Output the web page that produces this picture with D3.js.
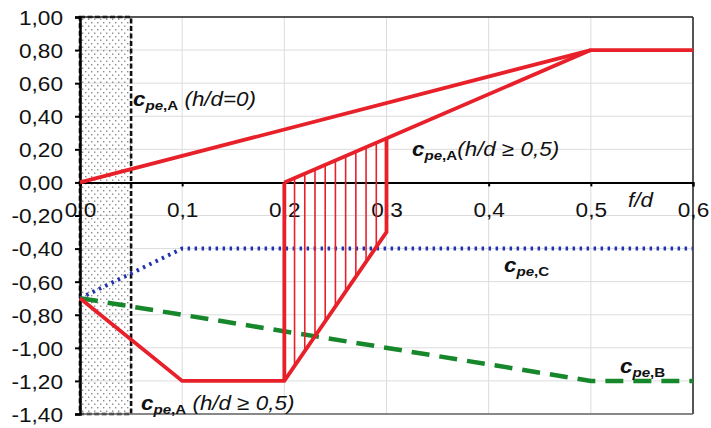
<!DOCTYPE html>
<html><head><meta charset="utf-8">
<script src="https://cdn.jsdelivr.net/npm/d3@7/dist/d3.min.js"></script>
<style>body{margin:0;background:#fff}svg{display:block}</style>
</head><body>
<script>
// ---- data ----
const xTicks = [0, 0.1, 0.2, 0.3, 0.4, 0.5, 0.6];
const xTickLabels = ["0,0", "0,1", "0,2", "0,3", "0,4", "0,5", "0,6"];
const yTicks = [1.0, 0.8, 0.6, 0.4, 0.2, 0.0, -0.2, -0.4, -0.6, -0.8, -1.0, -1.2, -1.4];
const yTickLabels = ["1,00", "0,80", "0,60", "0,40", "0,20", "0,00", "-0,20", "-0,40", "-0,60", "-0,80", "-1,00", "-1,20", "-1,40"];
const shadedX = [0, 0.05];

const cpeA0X = [0, 0.5, 0.6];
const cpeA0Y = [0, 0.8, 0.8];
const cpeAUpperX = [0.2, 0.5];
const cpeAUpperY = [0, 0.8];
const cpeALowerX = [0, 0.1, 0.2, 0.3, 0.3];
const cpeALowerY = [-0.7, -1.2, -1.2, -0.3, 0.267];
const cpeALeftEdgeX = [0.2, 0.2];
const cpeALeftEdgeY = [0, -1.2];
const hatchX = [0.21, 0.22, 0.23, 0.24, 0.25, 0.26, 0.27, 0.28, 0.29];
const hatchTop = [0.027, 0.053, 0.08, 0.107, 0.133, 0.16, 0.187, 0.213, 0.24];
const hatchBottom = [-1.11, -1.02, -0.93, -0.84, -0.75, -0.66, -0.57, -0.48, -0.39];
const cpeCX = [0, 0.1, 0.6];
const cpeCY = [-0.7, -0.4, -0.4];
const cpeBX = [0, 0.5, 0.6];
const cpeBY = [-0.7, -1.2, -1.2];

// ---- chart ----
const W = 711, H = 428;
const L = 80, R = 693, T = 17, B = 414;
const SX = 1.16; // horizontal stretch of the original's lettering
const x = d3.scaleLinear().domain([0, 0.6]).range([L, R]);
const y = d3.scaleLinear().domain([-1.4, 1.0]).range([B, T]);
const FONT = "'Liberation Sans', Arial, sans-serif";

const svg = d3.select("body").append("svg").attr("width", W).attr("height", H)
  .style("font-family", FONT);

const defs = svg.append("defs");
const pat = defs.append("pattern").attr("id", "dots").attr("patternUnits", "userSpaceOnUse")
  .attr("width", 6).attr("height", 7);
pat.append("rect").attr("x", 1).attr("y", 1).attr("width", 1.4).attr("height", 1.4).attr("fill", "#8a8a8a");
pat.append("rect").attr("x", 4).attr("y", 4.5).attr("width", 1.4).attr("height", 1.4).attr("fill", "#8a8a8a");

// gridlines
svg.append("g").selectAll("line").data(yTicks).join("line")
  .attr("x1", L).attr("x2", R).attr("y1", d => y(d)).attr("y2", d => y(d))
  .attr("stroke", "#dcdcdc").attr("stroke-width", 1);
svg.append("g").selectAll("line").data(xTicks).join("line")
  .attr("x1", d => x(d)).attr("x2", d => x(d)).attr("y1", T).attr("y2", B)
  .attr("stroke", "#dcdcdc").attr("stroke-width", 1);

// shaded zone
svg.append("rect").attr("x", x(shadedX[0])).attr("y", T)
  .attr("width", x(shadedX[1]) - x(shadedX[0])).attr("height", B - T)
  .attr("fill", "url(#dots)").attr("stroke", "#111").attr("stroke-width", 2.6)
  .attr("stroke-dasharray", "5,2.5");

// borders
svg.append("line").attr("x1", L).attr("x2", R).attr("y1", T).attr("y2", T).attr("stroke", "#222").attr("stroke-width", 1.5);
svg.append("line").attr("x1", R).attr("x2", R).attr("y1", T).attr("y2", B).attr("stroke", "#222").attr("stroke-width", 1.5);
svg.append("line").attr("x1", L).attr("x2", R).attr("y1", B).attr("y2", B).attr("stroke", "#666").attr("stroke-width", 1.5);

// x axis at y=0
const xAxis = d3.axisBottom(x).tickValues(xTicks).tickSize(4).tickFormat((d, i) => xTickLabels[i]);
const gx = svg.append("g").attr("transform", `translate(0,${y(0)})`).call(xAxis);
gx.select(".domain").attr("stroke", "#000").attr("stroke-width", 2);
gx.selectAll(".tick line").attr("stroke", "#000").attr("stroke-width", 2);
gx.selectAll(".tick text").attr("font-size", 19.5).attr("fill", "#111").attr("y", 21).attr("dy", "0.71em")
  .attr("font-family", FONT).attr("transform", `scale(${SX},1)`);

// y axis
const yAxis = d3.axisLeft(y).tickValues(yTicks).tickSize(5).tickFormat((d, i) => yTickLabels[i]);
const gy = svg.append("g").attr("transform", `translate(${L},0)`).call(yAxis);
gy.select(".domain").attr("stroke", "#000").attr("stroke-width", 2.5);
gy.selectAll(".tick line").attr("stroke", "#000").attr("stroke-width", 2);
gy.selectAll(".tick text").attr("font-size", 19.5).attr("fill", "#111").attr("x", -17 / SX)
  .attr("dy", "0.38em")
  .attr("font-family", FONT).attr("transform", `scale(${SX},1)`);

const line = d3.line().x(d => x(d[0])).y(d => y(d[1]));
const zip = (a, b) => a.map((v, i) => [v, b[i]]);

// blue dotted
svg.append("path").attr("d", line(zip(cpeCX, cpeCY))).attr("fill", "none")
  .attr("stroke", "#2233b0").attr("stroke-width", 4).attr("stroke-dasharray", "2.5,4.5");
// green dashed
svg.append("path").attr("d", line(zip(cpeBX, cpeBY))).attr("fill", "none")
  .attr("stroke", "#17872b").attr("stroke-width", 4.5).attr("stroke-dasharray", "18,10");

// red
const red = "#e8202a";
svg.append("g").selectAll("line").data(hatchX).join("line")
  .attr("x1", d => x(d)).attr("x2", d => x(d))
  .attr("y1", (d, i) => y(hatchTop[i])).attr("y2", (d, i) => y(hatchBottom[i]))
  .attr("stroke", red).attr("stroke-width", 1.6);
[[cpeA0X, cpeA0Y], [cpeAUpperX, cpeAUpperY], [cpeALowerX, cpeALowerY], [cpeALeftEdgeX, cpeALeftEdgeY]]
  .forEach(([xs, ys]) => {
    svg.append("path").attr("d", line(zip(xs, ys))).attr("fill", "none")
      .attr("stroke", red).attr("stroke-width", 3.8).attr("stroke-linejoin", "miter");
  });

// labels
function cpeLabel(px, py, sub, rest) {
  const t = svg.append("text").attr("transform", `translate(${px},${py}) scale(1.12,1)`).attr("fill", "#111");
  t.append("tspan").text("c").attr("font-size", 20).attr("font-weight", "bold").attr("font-style", "italic");
  t.append("tspan").text("pe").attr("font-size", 13.5).attr("font-weight", "bold").attr("font-style", "italic").attr("dy", 4);
  t.append("tspan").text("," + sub).attr("font-size", 13.5).attr("font-weight", "bold");
  if (rest) t.append("tspan").text(rest).attr("font-size", 20).attr("font-style", "italic").attr("dy", -4);
}
cpeLabel(133, 106, "A", " (h/d=0)");
cpeLabel(412, 156, "A", "(h/d \u2265 0,5)");
cpeLabel(141, 410, "A", " (h/d \u2265 0,5)");
cpeLabel(504, 272, "C", null);
cpeLabel(620, 373, "B", null);
svg.append("text").attr("transform", "translate(628,207) scale(1.12,1)").attr("font-size", 20).attr("font-style", "italic")
  .attr("fill", "#111").text("f/d");
</script>
</body></html>
